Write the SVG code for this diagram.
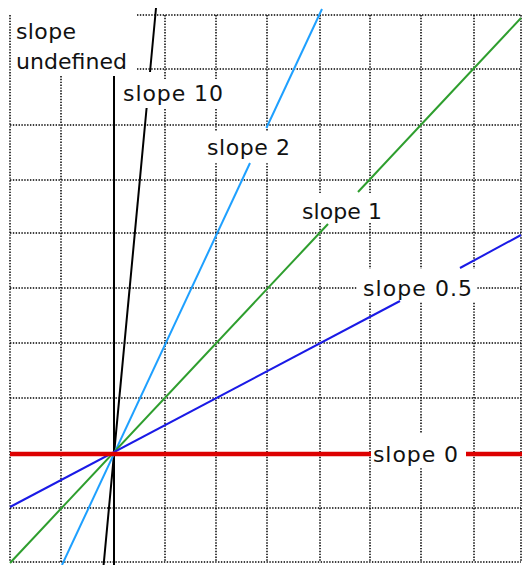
<svg xmlns="http://www.w3.org/2000/svg" width="522" height="565" viewBox="0 0 522 565">
<style>
.grid line{stroke:#000;stroke-width:1.5;stroke-dasharray:1.4 1.45}
.lbl{font-family:"DejaVu Sans","Liberation Sans",sans-serif;font-size:22px;fill:#111}
.bg{fill:#fff}
.ln{fill:none;stroke-width:2}
</style>
<rect width="522" height="565" fill="#fff"/>
<g id="grid" class="grid">
<line x1="137" y1="15" x2="521" y2="15"/>
<line x1="137" y1="69" x2="521" y2="69"/>
<line x1="10" y1="125" x2="521" y2="125"/>
<line x1="10" y1="180" x2="521" y2="180"/>
<line x1="10" y1="233" x2="521" y2="233"/>
<line x1="10" y1="288" x2="521" y2="288"/>
<line x1="10" y1="343" x2="521" y2="343"/>
<line x1="10" y1="398" x2="521" y2="398"/>
<line x1="10" y1="508" x2="521" y2="508"/>
<line x1="10" y1="562" x2="521" y2="562"/>
<line x1="10" y1="15" x2="10" y2="562"/>
<line x1="61" y1="76" x2="61" y2="562"/>
<line x1="165" y1="15" x2="165" y2="562"/>
<line x1="216" y1="15" x2="216" y2="562"/>
<line x1="267" y1="15" x2="267" y2="562"/>
<line x1="320" y1="15" x2="320" y2="562"/>
<line x1="370" y1="15" x2="370" y2="562"/>
<line x1="421" y1="15" x2="421" y2="562"/>
<line x1="474" y1="15" x2="474" y2="562"/>
<line x1="521" y1="15" x2="521" y2="562"/>
</g>
<g id="label-backgrounds">
<rect class="bg" x="118" y="79" width="108" height="29"/>
<rect class="bg" x="200" y="131" width="93" height="32"/>
<rect class="bg" x="298" y="194" width="88" height="29"/>
<rect class="bg" x="357" y="269" width="120" height="33"/>
<rect class="bg" x="371" y="433" width="95" height="34"/>
</g>
<g id="connectors">
<g id="slope-undefined-line"><line class="ln" x1="114" y1="76" x2="114" y2="565" stroke="#000"/></g>
<g id="slope-10-line">
<line class="ln" x1="156" y1="8" x2="150" y2="72" stroke="#000"/>
<line class="ln" x1="146.6" y1="108" x2="103.6" y2="565" stroke="#000"/>
</g>
<g id="slope-2-line">
<line class="ln" x1="322" y1="9" x2="266.4" y2="128" stroke="#1ea0ff" stroke-width="2.3"/>
<line class="ln" x1="250" y1="163" x2="62" y2="565" stroke="#1ea0ff" stroke-width="2.3"/>
</g>
<g id="slope-1-line">
<line class="ln" x1="521" y1="18" x2="358" y2="192" stroke="#2e9e2e" stroke-width="1.6"/>
<line class="ln" x1="328" y1="224" x2="10" y2="563" stroke="#2e9e2e" stroke-width="1.6"/>
</g>
<g id="slope-0.5-line">
<line class="ln" x1="521" y1="235" x2="460" y2="268" stroke="#1a1ae6" stroke-width="2.2"/>
<line class="ln" x1="400" y1="301" x2="10" y2="507" stroke="#1a1ae6" stroke-width="2.2"/>
</g>
<g id="slope-0-line">
<line x1="10" y1="454" x2="371" y2="454" stroke="#dd0000" stroke-width="4.5"/>
<line x1="466" y1="454" x2="522" y2="454" stroke="#dd0000" stroke-width="4.5"/>
</g>
</g>
<g id="labels">
<g id="label-undefined">
<text class="lbl" x="16" y="39" textLength="60" lengthAdjust="spacing">slope</text>
<text class="lbl" x="16" y="69" textLength="111" lengthAdjust="spacing">undefined</text>
</g>
<g id="label-10"><text class="lbl" x="123" y="101" textLength="100" lengthAdjust="spacing">slope 10</text></g>
<g id="label-2"><text class="lbl" x="207" y="155" textLength="83" lengthAdjust="spacing">slope 2</text></g>
<g id="label-1"><text class="lbl" x="302" y="219" textLength="80" lengthAdjust="spacing">slope 1</text></g>
<g id="label-0.5"><text class="lbl" x="363" y="296" textLength="109" lengthAdjust="spacing">slope 0.5</text></g>
<g id="label-0"><text class="lbl" x="373" y="462" textLength="85" lengthAdjust="spacing">slope 0</text></g>
</g>
</svg>
